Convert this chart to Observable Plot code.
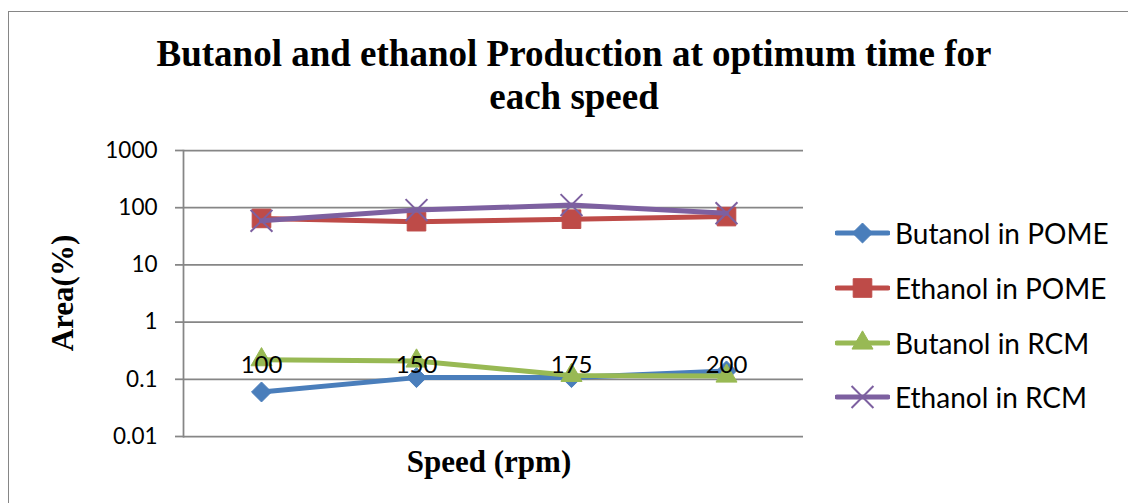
<!DOCTYPE html>
<html>
<head>
<meta charset="utf-8">
<script src="https://cdn.jsdelivr.net/npm/d3@7"></script>
<script src="https://cdn.jsdelivr.net/npm/@observablehq/plot@0.6"></script>
<style>
  html, body { margin: 0; padding: 0; background: #fff; }
  #wrap { position: relative; width: 1128px; height: 503px; overflow: hidden; background: #fff; }
  #border { position: absolute; left: 8px; top: 11px; width: 1300px; height: 700px; border: 1.5px solid #868686; box-sizing: border-box; }
  #chart { position: absolute; left: 0; top: 0; }
  .title { position: absolute; left: 0; top: 32px; width: 1148px; text-align: center; font-family: "Liberation Serif", "Times New Roman", serif; font-weight: bold; font-size: 37px; line-height: 43px; color: #000; }
  .xlabel { position: absolute; left: 289px; width: 400px; top: 446px; text-align: center; font-family: "Liberation Serif", serif; font-weight: bold; font-size: 31px; line-height: 31px; color: #000; }
  .ylabel { position: absolute; left: 61.5px; top: 293px; width: 200px; height: 31px; transform: translate(-50%, -50%) rotate(-90deg); text-align: center; font-family: "Liberation Serif", serif; font-weight: bold; font-size: 31px; line-height: 31px; color: #000; white-space: nowrap; }
  .legend { position: absolute; left: 835px; top: 0; font-family: Lato, sans-serif; font-size: 28px; color: #000; }
  .legend .item { position: absolute; left: 0; height: 30px; display: flex; align-items: center; white-space: nowrap; }
  .legend svg { display: block; margin-right: 5px; }
</style>
</head>
<body>
<div id="wrap">
  <div id="border"></div>
  <div id="chart"></div>
  <div class="title">Butanol and ethanol Production at optimum time for<br>each speed</div>
  <div class="xlabel">Speed (rpm)</div>
  <div class="ylabel">Area(%)</div>
  <div class="legend" id="legend"></div>
</div>
<script>
// ---- data ----
const speeds = ["100", "150", "175", "200"];
const butanolPOME = [0.06, 0.107, 0.107, 0.14];
const ethanolPOME = [65, 57, 63, 70];
const butanolRCM = [0.22, 0.209, 0.117, 0.114];
const ethanolRCM = [59, 91, 111, 80];
const seriesNames = ["Butanol in POME", "Ethanol in POME", "Butanol in RCM", "Ethanol in RCM"];
const seriesValues = [butanolPOME, ethanolPOME, butanolRCM, ethanolRCM];
const yTicks = [0.01, 0.1, 1, 10, 100, 1000];
const yTickLabels = ["0.01", "0.1", "1", "10", "100", "1000"];
const xAxisCross = 0.1;

// ---- styles ----
const colors = ["#4A7EBB", "#BE4B48", "#98B954", "#7D60A0"];
const symbols = ["diamond2", "square", "triangle", "times"];
const radii = [9, 10.5, 7.8, 10];

const table = [];
seriesNames.forEach((s, i) => speeds.forEach((sp, j) => table.push({series: s, speed: sp, value: seriesValues[i][j]})));

const marks = [
  Plot.ruleY(yTicks, {stroke: "#868686", strokeWidth: 1.75}),
  Plot.frame({anchor: "left", stroke: "#868686", strokeWidth: 1.75}),
  Plot.axisY({ticks: yTicks, tickFormat: d => yTickLabels[yTicks.indexOf(d)], tickSize: 8, tickPadding: 18, stroke: "#868686", strokeWidth: 1.75, fill: "#000", fontSize: 22.5, label: null})
];
seriesNames.forEach((s, i) => {
  const d = table.filter(r => r.series === s);
  marks.push(Plot.line(d, {x: "speed", y: "value", stroke: colors[i], strokeWidth: 5, strokeLinejoin: "round", strokeLinecap: "round"}));
  if (symbols[i] === "times") {
    marks.push(Plot.dot(d, {x: "speed", y: "value", symbol: symbols[i], r: radii[i], stroke: colors[i], strokeWidth: 2}));
  } else {
    marks.push(Plot.dot(d, {x: "speed", y: "value", symbol: symbols[i], r: radii[i], fill: colors[i], stroke: colors[i], strokeWidth: 1}));
  }
});
marks.push(Plot.text(speeds, {x: d => d, y: () => xAxisCross, dy: -14, fontSize: 24, fill: "#000"}));

const chart = Plot.plot({
  width: 1128,
  height: 503,
  marginLeft: 183,
  marginRight: 325,
  marginTop: 150,
  marginBottom: 67,
  style: {fontFamily: "Lato, sans-serif", background: "transparent", overflow: "visible"},
  x: {type: "point", domain: speeds, padding: 0.5, axis: null},
  y: {type: "log", domain: [0.01, 1000], axis: null},
  marks
});
document.getElementById("chart").appendChild(chart);

// ---- legend ----
const legend = document.getElementById("legend");
const rowY = [233, 288, 343, 397];
const symbolTypes = {diamond2: d3.symbolDiamond2, square: d3.symbolSquare, triangle: d3.symbolTriangle, times: d3.symbolTimes};
seriesNames.forEach((s, i) => {
  const item = document.createElement("div");
  item.className = "item";
  item.style.top = (rowY[i] - 15) + "px";
  const svg = d3.create("svg").attr("width", 55).attr("height", 30);
  svg.append("line").attr("x1", 2).attr("x2", 53).attr("y1", 15).attr("y2", 15)
    .attr("stroke", colors[i]).attr("stroke-width", 5).attr("stroke-linecap", "round");
  const size = Math.PI * radii[i] * radii[i];
  const p = svg.append("path").attr("transform", "translate(27.5,15)")
    .attr("d", d3.symbol(symbolTypes[symbols[i]], size)());
  if (symbols[i] === "times") p.attr("fill", "none").attr("stroke", colors[i]).attr("stroke-width", 2);
  else p.attr("fill", colors[i]).attr("stroke", colors[i]);
  item.appendChild(svg.node());
  const t = document.createElement("span");
  t.textContent = s;
  item.appendChild(t);
  legend.appendChild(item);
});
</script>
</body>
</html>
